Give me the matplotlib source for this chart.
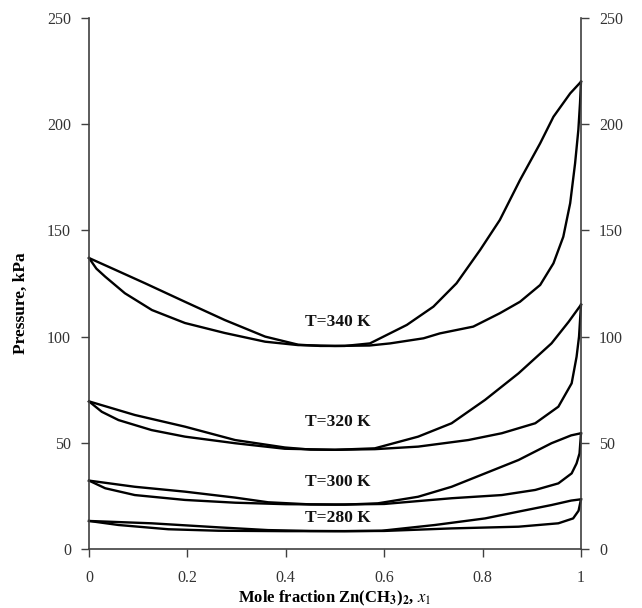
import matplotlib
matplotlib.use("Agg")
import matplotlib.pyplot as plt

plt.rcParams['font.family'] = ['Liberation Serif', 'DejaVu Serif']
plt.rcParams['mathtext.fontset'] = 'stix'

# ---- data ----
labels = ["T=340 K", "T=320 K", "T=300 K", "T=280 K"]
label_pos = [(0.505, 107.0), (0.505, 60.0), (0.505, 31.7), (0.505, 14.4)]

x340_bub = [0, 0.05, 0.114, 0.195, 0.276, 0.358, 0.425, 0.47, 0.52, 0.571, 0.646, 0.70, 0.747, 0.795, 0.835, 0.876, 0.917, 0.944, 0.978, 1.0]
p340_bub = [137, 131.8, 125.1, 116.4, 107.8, 100, 96.2, 95.6, 95.6, 96.8, 105.5, 114.1, 125.1, 140.8, 154.9, 173.7, 191, 203.5, 214.5, 220]
x340_dew = [0, 0.015, 0.033, 0.073, 0.128, 0.195, 0.276, 0.358, 0.425, 0.5, 0.57, 0.612, 0.68, 0.713, 0.781, 0.835, 0.876, 0.917, 0.944, 0.964, 0.978, 0.988, 0.9946, 0.998, 1.0]
p340_dew = [137, 132, 128.2, 120.4, 112.5, 106.4, 101.7, 97.6, 96.0, 95.6, 95.8, 96.8, 99.2, 101.5, 104.7, 111, 116.4, 124.3, 134.5, 147, 162.8, 181.6, 197.3, 210, 220]

x320_bub = [0, 0.093, 0.195, 0.297, 0.398, 0.45, 0.5, 0.581, 0.669, 0.737, 0.805, 0.873, 0.94, 0.975, 1.0]
p320_bub = [69.5, 63.1, 57.6, 51.3, 47.8, 46.8, 46.7, 47.4, 52.9, 59.2, 70.2, 82.7, 96.8, 107, 115]
x320_dew = [0, 0.026, 0.06, 0.127, 0.195, 0.297, 0.398, 0.5, 0.581, 0.669, 0.771, 0.839, 0.907, 0.954, 0.981, 0.991, 0.996, 1.0]
p320_dew = [69.5, 64.6, 60.7, 56, 52.9, 49.8, 47.2, 46.7, 47, 48.2, 51.3, 54.5, 59.2, 67, 78, 90.5, 100, 115]

x300_bub = [0, 0.093, 0.195, 0.297, 0.364, 0.45, 0.52, 0.587, 0.669, 0.737, 0.805, 0.873, 0.94, 0.98, 1.0]
p300_bub = [32.2, 29.3, 27.0, 24.2, 22.0, 21.0, 20.9, 21.5, 24.6, 29.3, 35.6, 41.9, 49.8, 53.5, 54.5]
x300_dew = [0, 0.033, 0.093, 0.195, 0.297, 0.4, 0.5, 0.6, 0.737, 0.839, 0.907, 0.954, 0.981, 0.991, 0.997, 1.0]
p300_dew = [32.2, 28.6, 25.4, 23.1, 21.8, 21.1, 20.9, 21.2, 23.9, 25.4, 27.8, 30.9, 35.6, 40.3, 45, 54.5]

x280_bub = [0, 0.127, 0.263, 0.364, 0.45, 0.52, 0.595, 0.703, 0.805, 0.873, 0.94, 0.98, 1.0]
p280_bub = [13.2, 12.1, 10.2, 8.9, 8.5, 8.4, 8.6, 11.3, 14.4, 17.6, 20.7, 22.8, 23.4]
x280_dew = [0, 0.06, 0.161, 0.263, 0.4, 0.5, 0.6, 0.737, 0.873, 0.954, 0.984, 0.995, 1.0]
p280_dew = [13.2, 11.3, 9.3, 8.6, 8.4, 8.4, 8.5, 9.7, 10.5, 12.1, 14.4, 18, 23.4]

x_ticks = [0, 0.2, 0.4, 0.6, 0.8, 1.0]
x_ticklabels = ["0", "0.2", "0.4", "0.6", "0.8", "1"]
y_ticks = [0, 50, 100, 150, 200, 250]
y_ticklabels = ["0", "50", "100", "150", "200", "250"]

# ---- figure ----
fig = plt.figure(figsize=(6.42, 6.08), dpi=100)
ax = fig.add_axes([89/642, 1-549/608, (581-89)/642, (549-18)/608])

curves = [(x340_bub, p340_bub), (x340_dew, p340_dew),
          (x320_bub, p320_bub), (x320_dew, p320_dew),
          (x300_bub, p300_bub), (x300_dew, p300_dew),
          (x280_bub, p280_bub), (x280_dew, p280_dew)]
for xs, ps in curves:
    ax.plot(xs, ps, color='black', lw=1.7, solid_joinstyle='round', clip_on=False)

for lab, (lx, ly) in zip(labels, label_pos):
    ax.text(lx, ly, lab, ha='center', va='center', fontsize=12.5, fontweight='bold', color='#111111')

ax.set_xlim(0, 1)
ax.set_ylim(0, 250)
ax.set_xticks(x_ticks)
ax.set_xticklabels(x_ticklabels)
ax.set_yticks(y_ticks)
ax.set_yticklabels(y_ticklabels)

spine_col = '#404040'
for s in ['top', 'right']:
    ax.spines[s].set_visible(False)
for s in ['left', 'bottom']:
    ax.spines[s].set_color(spine_col)
    ax.spines[s].set_linewidth(1.2)
ax.tick_params(axis='both', direction='out', length=6, width=1.0, color=spine_col,
               labelsize=11.5, labelcolor='#333333')
ax.tick_params(axis='x', pad=9)
ax.tick_params(axis='y', pad=7)

ax2 = ax.twinx()
ax2.set_ylim(0, 250)
ax2.set_yticks(y_ticks)
ax2.set_yticklabels(y_ticklabels)
for s in ['top', 'left', 'bottom']:
    ax2.spines[s].set_visible(False)
ax2.spines['right'].set_color(spine_col)
ax2.spines['right'].set_linewidth(1.2)
ax2.tick_params(axis='y', direction='out', length=6, width=1.0, color=spine_col,
                labelsize=11.5, labelcolor='#333333', pad=7)

fig.text(21/642, 1-303/608, "Pressure, kPa", rotation=90, ha='center', va='center',
         fontsize=12.5, fontweight='bold')
fig.text(335/642, 1-598/608,
         r"Mole fraction Zn(CH$_\mathbf{3}$)$_\mathbf{2}$, $x_1$",
         ha='center', va='center', fontsize=12, fontweight='bold')

fig.savefig("out.png", dpi=100)
